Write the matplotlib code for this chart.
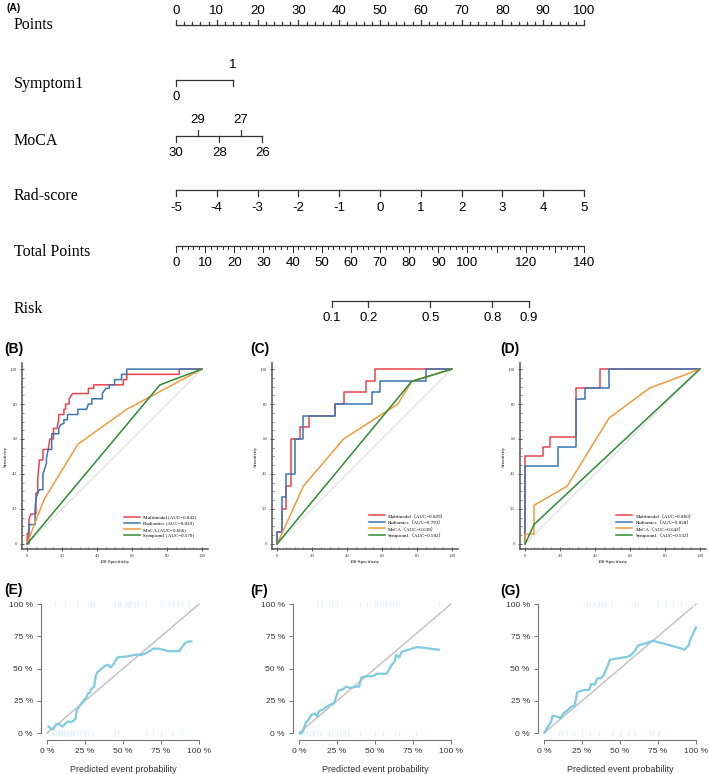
import numpy as np
import matplotlib
matplotlib.use("Agg")
import matplotlib.pyplot as plt

W, H = 709, 774

# ---------------- nomogram (A) ----------------
points_ticks = [0, 10, 20, 30, 40, 50, 60, 70, 80, 90, 100]
symptom_vals = ["0", "1"]
symptom_pts = [0, 14]
moca_vals = ["30", "29", "28", "27", "26"]
moca_pts = [0, 5.3, 10.6, 15.9, 21.2]
rad_vals = ["-5", "-4", "-3", "-2", "-1", "0", "1", "2", "3", "4", "5"]
rad_pts = [0, 10, 20, 30, 40, 50, 60, 70, 80, 90, 100]
total_labels = [0, 10, 20, 30, 40, 50, 60, 70, 80, 90, 100, 120, 140]
total_max = 140
risk_vals = ["0.1", "0.2", "0.5", "0.8", "0.9"]
risk_total = [53.5, 66.0, 87.3, 108.5, 121.0]

# ---------------- ROC curves (B, C, D) ----------------
b_multi_fpr = [0, 0, 1, 1, 2, 5, 5, 6, 6, 7, 9, 9, 12, 13, 15, 15, 17, 18, 18, 19, 21, 21, 22, 22, 24, 24, 26, 35, 35, 38, 38, 55, 55, 57, 57, 87, 87, 100]
b_multi_tpr = [0, 6, 6, 14, 17, 17, 29, 29, 37, 48, 48, 54, 54, 60, 60, 66, 66, 71, 74, 74, 74, 77, 77, 80, 80, 83, 86, 86, 89, 89, 91, 91, 94, 94, 97, 97, 100, 100]
b_rad_fpr = [0, 1, 1, 4.5, 4.5, 5, 6, 7, 9, 9, 10, 11, 11, 12, 14, 14, 18, 18, 19, 21, 21, 23, 23, 29, 29, 34, 35, 37, 37, 43, 43, 45, 47, 47, 50, 50, 54, 54, 57, 57, 100]
b_rad_tpr = [0, 0, 11, 11, 20, 26, 29, 31, 31, 40, 43, 46, 49, 54, 54, 63, 63, 66, 68, 69, 71, 71, 74, 74, 77, 77, 80, 80, 83, 83, 86, 89, 89, 91, 91, 94, 94, 97, 97, 100, 100]
b_moca_fpr = [0, 4, 10, 29, 57, 100]
b_moca_tpr = [0, 11, 26, 57, 77, 100]
b_sym_fpr = [0, 76, 100]
b_sym_tpr = [0, 91, 100]
b_labels = ["Multimodal (AUC=0.842)", "Radiomics (AUC=0.819)",
            "MoCA (AUC=0.666)", "Symptom1 (AUC=0.579)"]

c_multi_fpr = [0, 0, 3, 3, 5, 5, 8, 8, 13, 13, 18, 18, 33, 33, 38, 38, 51, 51, 56, 56, 100]
c_multi_tpr = [0, 6.7, 6.7, 20, 20, 33.3, 33.3, 60, 60, 66.7, 66.7, 73.3, 73.3, 80, 80, 86.7, 86.7, 93.3, 93.3, 100, 100]
c_rad_fpr = [0, 0, 3, 3, 5, 5, 10, 10, 15, 15, 33, 33, 54, 54, 59, 59, 85, 85, 100]
c_rad_tpr = [0, 6.7, 6.7, 26.7, 26.7, 40, 40, 60, 60, 73.3, 73.3, 80, 80, 86.7, 86.7, 93.3, 93.3, 100, 100]
c_moca_fpr = [0, 15, 38, 69, 77, 100]
c_moca_tpr = [0, 33, 60, 80, 93, 100]
c_sym_fpr = [0, 77, 100]
c_sym_tpr = [0, 93, 100]
c_labels = ["Multimodal（AUC=0.829）", "Radiomics（AUC=0.793）",
            "MoCA（AUC=0.638）", "Symptom1（AUC=0.582）"]

d_multi_fpr = [0, 0, 10, 10, 14, 14, 29, 29, 43, 43, 100]
d_multi_tpr = [0, 50, 50, 55.6, 55.6, 61, 61, 89, 89, 100, 100]
d_rad_fpr = [0, 0, 19, 19, 29, 29, 34, 34, 48, 48, 100]
d_rad_tpr = [0, 44.4, 44.4, 55.6, 55.6, 83, 83, 89, 89, 100, 100]
d_moca_fpr = [0, 0, 5, 5, 24, 48, 71, 100]
d_moca_tpr = [0, 5.6, 5.6, 22, 33, 72, 89, 100]
d_sym_fpr = [0, 5, 100]
d_sym_tpr = [0, 11, 100]
d_labels = ["Multimodal（AUC=0.860）", "Radiomics（AUC=0.828）",
            "MoCA（AUC=0.642）", "Symptom1（AUC=0.532）"]

# ---------------- calibration curves (E, F, G) ----------------
e_pred = [1, 2, 3, 4, 5, 6, 8, 10, 11, 13, 14, 16, 18, 19, 19.5, 21, 22, 24, 26, 27, 28, 29, 31, 32, 33, 35, 38, 40, 42, 44, 46, 47, 50, 53, 57, 60, 62, 65, 68, 70, 73, 77, 80, 84, 87, 89, 91, 93, 95]
e_obs = [5, 4, 3, 3, 5, 7, 7, 5, 6, 8.5, 9, 8.5, 10, 12, 18, 20, 22, 25, 28, 31, 31, 34, 36, 44, 47, 49, 52, 53, 51, 54, 58, 59, 59, 59.5, 60.5, 61, 60.5, 62, 64, 65.5, 65.5, 64.5, 63.5, 63.5, 63.5, 67, 70, 71, 71]
e_rug_top = [5, 12, 20, 27, 28, 29, 30, 31, 45, 47, 48, 52, 53, 54, 55, 57, 58, 60, 65, 75, 80, 83, 86, 89, 93]
e_rug_bot = [3, 4, 5, 6, 7, 8, 9, 10, 11, 12, 13, 14, 15, 16, 17, 18, 20, 22, 24, 25, 27, 30, 45, 47, 65, 70, 75, 82, 88]

f_pred = [0.7, 2, 3, 4.4, 6, 8, 10.5, 12, 13, 15.4, 19, 21.5, 23, 25, 26, 29, 31, 33.5, 38, 39.5, 41, 43.4, 46.7, 49.5, 51, 57.7, 61, 63, 64, 66, 67.5, 72, 77.4, 83, 92]
f_obs = [-0.5, 0, 3, 8, 10, 14, 15, 13, 17, 18, 21, 22.7, 23, 30, 33, 34, 36, 35, 36, 36, 43, 44, 44, 44.5, 46, 46, 53, 55.6, 60.7, 58.7, 63, 64.6, 66.7, 66, 64.6]
f_rug_top = [12, 15, 20, 22, 25, 40, 45, 50, 51, 53, 55, 57, 60, 62, 64, 92]
f_rug_bot = [3, 5, 7, 9, 10, 12, 14, 20, 22, 25, 27, 30, 32, 40, 50, 55, 63, 66, 77]

g_pred = [0.4, 2, 3.7, 4.8, 5.5, 8, 10.8, 13, 15.9, 18, 20, 21.8, 24.7, 29.7, 31, 33.5, 35, 37.4, 39, 41, 43.4, 46.7, 54.4, 56.6, 59, 62, 67.6, 71.4, 77.5, 89.6, 92.3, 95, 96.7, 100]
g_obs = [0.5, 4, 7, 9, 13.4, 13, 11.6, 15.5, 18, 20.7, 20.7, 31.5, 33, 33.6, 38, 37.7, 42.4, 42.6, 44.4, 49.6, 56.8, 57.6, 59, 60, 62.5, 68, 69.8, 71.6, 69.8, 65.9, 64.6, 67.7, 73.6, 81.9]
g_rug_top = [28, 30, 33, 36, 38, 40, 44, 60, 62, 75, 80, 85, 90, 95, 98]
g_rug_bot = [10, 12, 15, 20, 25, 30, 36, 45, 50, 55, 60, 70, 72, 75, 76]

roc_colors = ["#e8434a", "#3b76b3", "#f39a3a", "#2e8b36"]
cal_color = "#7ecbe2"

fig = plt.figure(figsize=(W / 100, H / 100), dpi=100)


def px_axes(left, top, right, bottom):
    return fig.add_axes([left / W, 1 - bottom / H, (right - left) / W, (bottom - top) / H])


num_font = "Liberation Sans"
lab_font = "Liberation Serif"

# nomogram: x in "points", y in pixels
ax = px_axes(0, 0, W, 335)
ax.axis("off")
px_per_pt = 4.08
ax.set_xlim(-176 / px_per_pt, (W - 176) / px_per_pt)
ax.set_ylim(335, 0)
lc = "#333333"
lw = 0.9
lab_x = (14 - 176) / px_per_pt


def row_label(y, s):
    ax.text(lab_x, y, s, ha="left", va="center", fontsize=11.5, family=lab_font)


# Points
y = 25
ax.plot([0, 100], [y, y], color=lc, lw=lw)
for v in range(0, 101, 2):
    ln = 5 if v % 10 == 0 else 2.5
    ax.plot([v, v], [y, y - ln], color=lc, lw=lw)
for v in points_ticks:
    ax.text(v, 11, str(v), ha="center", va="center", fontsize=9.5, family=num_font)
row_label(25, "Points")

# Symptom1
y = 80
ax.plot(symptom_pts, [y, y], color=lc, lw=lw)
for p in symptom_pts:
    ax.plot([p, p], [y, y + 6], color=lc, lw=lw)
ax.text(symptom_pts[1], 65, symptom_vals[1], ha="center", va="center", fontsize=9.5, family=num_font)
ax.text(symptom_pts[0], 97, symptom_vals[0], ha="center", va="center", fontsize=9.5, family=num_font)
row_label(84, "Symptom1")

# MoCA
y = 136
ax.plot([moca_pts[0], moca_pts[-1]], [y, y], color=lc, lw=lw)
for i, (p, s) in enumerate(zip(moca_pts, moca_vals)):
    if i % 2 == 0:
        ax.plot([p, p], [y, y + 6], color=lc, lw=lw)
        ax.text(p, 153, s, ha="center", va="center", fontsize=9.5, family=num_font)
    else:
        ax.plot([p, p], [y, y - 6], color=lc, lw=lw)
        ax.text(p, 120, s, ha="center", va="center", fontsize=9.5, family=num_font)
row_label(141, "MoCA")

# Rad-score
y = 190
ax.plot([rad_pts[0], rad_pts[-1]], [y, y], color=lc, lw=lw)
for p, s in zip(rad_pts, rad_vals):
    ax.plot([p, p], [y, y + 6], color=lc, lw=lw)
    ax.text(p, 208, s, ha="center", va="center", fontsize=9.5, family=num_font)
row_label(196, "Rad-score")

# Total Points
y = 246
sc = 100 / total_max
ax.plot([0, 100], [y, y], color=lc, lw=lw)
for v in range(0, total_max + 1, 2):
    ln = 6 if v % 10 == 0 else 3
    ax.plot([v * sc, v * sc], [y, y + ln], color=lc, lw=lw * 0.8)
for v in total_labels:
    ax.text(v * sc, 263, str(v), ha="center", va="center", fontsize=9.5, family=num_font)
row_label(252, "Total Points")

# Risk
y = 301
ax.plot([risk_total[0] * sc, risk_total[-1] * sc], [y, y], color=lc, lw=lw)
for t, s in zip(risk_total, risk_vals):
    ax.plot([t * sc, t * sc], [y, y + 6], color=lc, lw=lw)
    ax.text(t * sc, 318, s, ha="center", va="center", fontsize=9.5, family=num_font)
row_label(309, "Risk")


# ---------------- ROC panels ----------------
def roc_panel(left, curves, labels):
    a = px_axes(left, 363, left + 186, 549)
    a.plot([0, 100], [0, 100], color="#dedede", lw=0.8)
    for (fx, fy), col, lab in zip(curves, roc_colors, labels):
        a.plot(fx, fy, color=col, lw=1.1, label=lab)
    a.set_xlim(-3, 103.5)
    a.set_ylim(-3, 103.5)
    for s in ["top", "right"]:
        a.spines[s].set_visible(False)
    for s in ["left", "bottom"]:
        a.spines[s].set_color("#555555")
        a.spines[s].set_linewidth(1.1)
    a.set_xticks(range(0, 101, 20))
    a.set_yticks(range(0, 101, 20))
    a.set_xticks(range(0, 101, 5), minor=True)
    a.set_yticks(range(0, 101, 5), minor=True)
    a.tick_params(which="major", length=3, width=0.7, direction="inout", labelsize=3.5, pad=2, colors="#555555")
    a.tick_params(which="minor", length=1.5, width=0.5, direction="in", colors="#555555")
    for t in a.get_xticklabels() + a.get_yticklabels():
        t.set_family(lab_font)
        t.set_color("#444444")
    a.set_xlabel("100-Specificity", fontsize=3.5, family=lab_font, labelpad=1.5)
    a.set_ylabel("Sensitivity", fontsize=3.5, family=lab_font, labelpad=1.5)
    a.legend(loc="lower right", bbox_to_anchor=(0.955, 0.04), frameon=False,
             prop={"family": [lab_font, "Noto Sans CJK SC"], "size": 3.6},
             handlelength=3.2, handletextpad=0.6, labelspacing=0.35, borderpad=0.2)
    return a


roc_panel(22, [(b_multi_fpr, b_multi_tpr), (b_rad_fpr, b_rad_tpr),
               (b_moca_fpr, b_moca_tpr), (b_sym_fpr, b_sym_tpr)], b_labels)
roc_panel(272, [(c_multi_fpr, c_multi_tpr), (c_rad_fpr, c_rad_tpr),
                (c_moca_fpr, c_moca_tpr), (c_sym_fpr, c_sym_tpr)], c_labels)
roc_panel(520, [(d_multi_fpr, d_multi_tpr), (d_rad_fpr, d_rad_tpr),
                (d_moca_fpr, d_moca_tpr), (d_sym_fpr, d_sym_tpr)], d_labels)


# ---------------- calibration panels ----------------
def cal_panel(left, pred, obs, rug_top, rug_bot):
    a = px_axes(left, 599, left + 164, 740)
    a.plot([0, 100], [0, 100], color="#c4c4c4", lw=1.1)
    a.plot(rug_top, [100] * len(rug_top), "|", color="#e6f4f8", ms=4, mew=1)
    a.plot(rug_bot, [0] * len(rug_bot), "|", color="#e6f4f8", ms=4, mew=1)
    a.plot(pred, obs, color=cal_color, lw=1.6)
    a.set_xlim(-4, 104)
    a.set_ylim(-5.4, 104)
    for s in ["top", "right"]:
        a.spines[s].set_visible(False)
    for s in ["left", "bottom"]:
        a.spines[s].set_color("#777777")
        a.spines[s].set_linewidth(0.8)
        a.spines[s].set_bounds(0, 100)
    ticks = [0, 25, 50, 75, 100]
    a.set_xticks(ticks)
    a.set_yticks(ticks)
    a.set_xticklabels([f"{t} %" for t in ticks])
    a.set_yticklabels([f"{t} %" for t in ticks])
    a.tick_params(length=3, width=0.7, colors="#777777", labelsize=6, labelcolor="#333333", pad=3)
    for t in a.get_xticklabels() + a.get_yticklabels():
        t.set_family("Liberation Sans")
    a.set_xlabel("Predicted event probability", fontsize=6.5, family="Liberation Sans",
                  color="#333333", labelpad=7)
    return a


cal_panel(41, e_pred, e_obs, e_rug_top, e_rug_bot)
cal_panel(293, f_pred, f_obs, f_rug_top, f_rug_bot)
cal_panel(538, g_pred, g_obs, g_rug_top, g_rug_bot)

# panel letters
for s, x, y, fs in [("(A)", 6, 8, 7.5), ("(B)", 4, 349, 10), ("(C)", 250, 349, 10),
                    ("(D)", 500, 349, 10), ("(E)", 4, 590, 10), ("(F)", 250, 591, 10),
                    ("(G)", 500, 591, 10)]:
    fig.text(x / W, 1 - y / H, s, ha="left", va="center", fontsize=fs,
             fontweight="bold", family="Liberation Sans")

fig.savefig("out.png", dpi=100)
